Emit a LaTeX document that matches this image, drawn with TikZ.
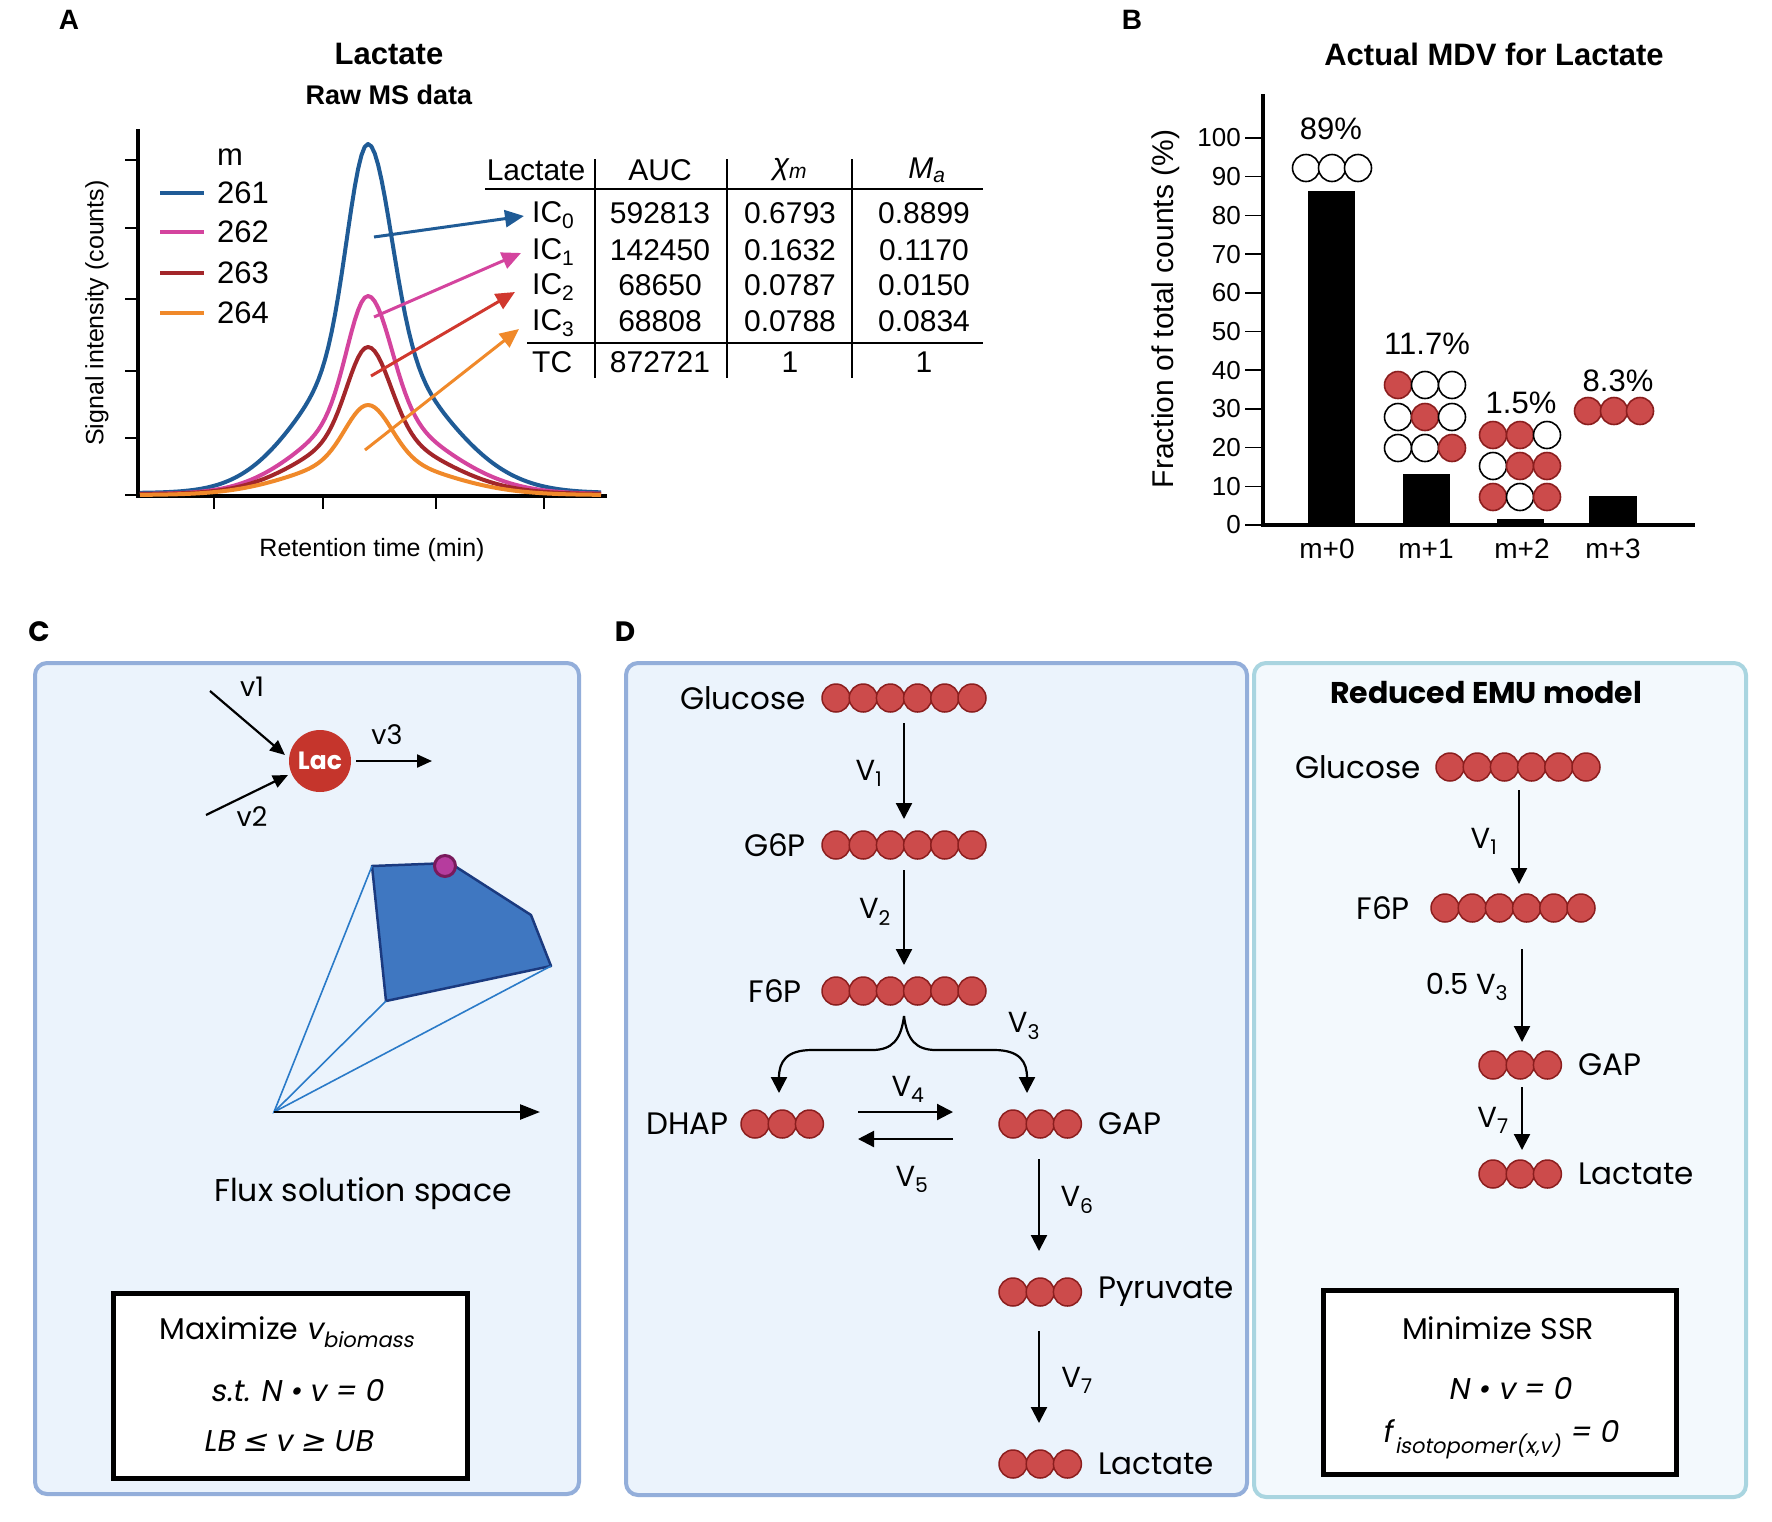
\documentclass[tikz,border=0pt]{standalone}
\usepackage{fontspec}
\setmainfont{Liberation Sans}
\newfontfamily\pop{Poppins}
\newfontfamily\popi{Poppins}[FakeSlant=0.18]
\newfontfamily\djvi{DejaVu Sans}[FakeSlant=0.18]
\usetikzlibrary{arrows.meta}
\newcommand{\fs}[1]{\fontsize{#1}{#1}\selectfont}
\definecolor{cblue}{HTML}{1F5B96}
\definecolor{cmag}{HTML}{D4449E}
\definecolor{cdred}{HTML}{A3262A}
\definecolor{corange}{HTML}{F0892A}
\definecolor{carrred}{HTML}{D0382E}
\definecolor{atomfill}{HTML}{CC4B4B}
\definecolor{atomedge}{HTML}{8B1E1E}
\definecolor{panelC}{HTML}{EBF3FC}
\definecolor{panelCedge}{HTML}{93AEDA}
\definecolor{panelE}{HTML}{F3F9FD}
\definecolor{panelEedge}{HTML}{A9D5E0}
\definecolor{polyfill}{HTML}{3F77C1}
\definecolor{polyedge}{HTML}{1B3A7F}
\definecolor{thinblue}{HTML}{2A7AC8}
\definecolor{lacred}{HTML}{C5352C}
\definecolor{dotfill}{HTML}{B63C9E}
\definecolor{dotedge}{HTML}{781A5C}
\newcommand{\atoms}[4]{\foreach \i in {1,...,#2}{\node[ratom] (#1\i) at ({#3+27.2*(\i-1)},#4) {};}}
\begin{document}
\begin{tikzpicture}[x=1pt,y=-1pt,
  declare function={pk(\d,\s)=0.6*exp(-min(9,0.693*(\d/\s)^2))+0.4*exp(-min(9,0.693*(\d/(3.1*\s))^2));},
  every node/.style={inner sep=0pt},
  tb/.style={font=\fs{30}},
  ax/.style={font=\fs{26}},
  wat/.style={circle,draw=black,line width=1.6,fill=white,minimum size=27,inner sep=0},
  rat/.style={circle,draw=atomedge,line width=1.6,fill=atomfill,minimum size=27,inner sep=0},
  ratom/.style={circle,draw=atomedge,line width=1.5,fill=atomfill,minimum size=28,inner sep=0},
  dt/.style={font=\pop\fs{31}},
  vl/.style={font=\pop\fs{29}},
  rx/.style={line width=2.2,-{Triangle[width=16,length=16]}},
  curve/.style={line width=4,line join=round},
  carrow/.style={line width=3,-{Triangle[width=17,length=19]}}
]
\fill[white] (0,0) rectangle (1772,1521);
\useasboundingbox (0,0) rectangle (1772,1521);

% ================= Panel A =================
\node[font=\bfseries\fs{28}] (labA) at (69,20) {A};
\node[font=\bfseries\fs{31}] (tA) at (389,54) {Lactate};
\node[font=\bfseries\fs{27}] (tA2) at (389,95) {Raw MS data};
\draw[line width=4] (138,129) -- (138,496) -- (607,496);
\foreach \y in {160,228,299,371,438,495} \draw[line width=1.5] (125,\y) -- (138,\y);
\foreach \x in {214,323,436,544} \draw[line width=2] (\x,496) -- (\x,509);
\node[font=\fs{25}] (xlabA) at (372,550) {Retention time (min)};
\node[font=\fs{25},rotate=90] (ylabA) at (97,313) {Signal intensity (counts)};

\draw[cblue,curve] plot[domain=140:368,samples=70] (\x,{493-349*pk(\x-368,24)}) -- plot[domain=368:601,samples=70] (\x,{493-349*pk(\x-368,27)});
\draw[cmag,curve] plot[domain=140:368,samples=70] (\x,{494-198*pk(\x-368,24)}) -- plot[domain=368:601,samples=70] (\x,{494-198*pk(\x-368,27)});
\draw[cdred,curve] plot[domain=140:368,samples=70] (\x,{494-147*pk(\x-368,24)}) -- plot[domain=368:601,samples=70] (\x,{494-147*pk(\x-368,26)});
\draw[corange,curve] plot[domain=140:368,samples=70] (\x,{495-90*pk(\x-368,26)}) -- plot[domain=368:601,samples=70] (\x,{495-90*pk(\x-368,27)});

\node[font=\fs{31},anchor=west] (lm) at (217,157) {m};
\node[font=\fs{31},anchor=west] (l1) at (217,193) {261};
\node[font=\fs{31},anchor=west] (l2) at (217,232) {262};
\node[font=\fs{31},anchor=west] (l3) at (217,273) {263};
\node[font=\fs{31},anchor=west] (l4) at (217,313) {264};
\draw[cblue,line width=4] (160,193) -- (204,193);
\draw[cmag,line width=4] (160,232) -- (204,232);
\draw[cdred,line width=4] (160,273) -- (204,273);
\draw[corange,line width=4] (160,313) -- (204,313);

% table
\node[tb] (hLac) at (536,170) {Lactate};
\node[tb] (hAUC) at (660,170) {AUC};
\node[tb] (hX) at (790,170) {\itshape χ\textsubscript{m}};
\node[tb] (hM) at (927,170) {\itshape M\textsubscript{a}};
\draw[line width=2.5] (485,189) -- (983,189);
\draw[line width=2.5] (527,343) -- (983,343);
\foreach \x in {595,727,852} \draw[line width=2.5] (\x,159) -- (\x,378);
\node[tb,anchor=west] (ic0) at (532,215) {IC\textsubscript{0}};
\node[tb,anchor=west] (ic1) at (532,252) {IC\textsubscript{1}};
\node[tb,anchor=west] (ic2) at (532,287) {IC\textsubscript{2}};
\node[tb,anchor=west] (ic3) at (532,323) {IC\textsubscript{3}};
\node[tb,anchor=west] (tc) at (532,362) {TC};
\node[tb] (a0) at (660,213) {592813};
\node[tb] (a1) at (660,250) {142450};
\node[tb] (a2) at (660,285) {68650};
\node[tb] (a3) at (660,321) {68808};
\node[tb] (a4) at (660,362) {872721};
\node[tb] (x0) at (790,213) {0.6793};
\node[tb] (x1) at (790,250) {0.1632};
\node[tb] (x2) at (790,285) {0.0787};
\node[tb] (x3) at (790,321) {0.0788};
\node[tb] (x4) at (790,362) {1};
\node[tb] (m0) at (924,213) {0.8899};
\node[tb] (m1) at (924,250) {0.1170};
\node[tb] (m2) at (924,285) {0.0150};
\node[tb] (m3) at (924,321) {0.0834};
\node[tb] (m4) at (924,362) {1};

\coordinate (b0s) at (374,237); \coordinate (b0e) at (524,216);
\coordinate (b1s) at (374,317); \coordinate (b1e) at (521,253);
\coordinate (b2s) at (371,376); \coordinate (b2e) at (515,292);
\coordinate (b3s) at (365,450); \coordinate (b3e) at (519,329);
\draw[cblue,carrow] (b0s) -- (b0e);
\draw[cmag,carrow] (b1s) -- (b1e);
\draw[carrred,carrow] (b2s) -- (b2e);
\draw[corange,carrow] (b3s) -- (b3e);

% ================= Panel B =================
\node[font=\bfseries\fs{28}] (labB) at (1132,20) {B};
\node[font=\bfseries\fs{31}] (tB) at (1494,54) {Actual MDV for Lactate};
\draw[line width=4] (1263,94) -- (1263,525) -- (1695,525);
\foreach \v in {0,10,...,100}{
  \draw[line width=1.5] (1245,{525-3.87*\v}) -- (1263,{525-3.87*\v});
  \node[ax,anchor=east] (tk\v) at (1241,{525-3.87*\v}) {\v};
}
\node[font=\fs{30},rotate=90] (ylabB) at (1166,309) {Fraction of total counts (\%)};
\fill (1308,191) rectangle (1355,524);
\fill (1403,474) rectangle (1450,524);
\fill (1497,519) rectangle (1544,524);
\fill (1589,496) rectangle (1637,524);
\node[font=\fs{28}] (xm0) at (1327,549) {m+0};
\node[font=\fs{28}] (xm1) at (1426,549) {m+1};
\node[font=\fs{28}] (xm2) at (1522,549) {m+2};
\node[font=\fs{28}] (xm3) at (1613,549) {m+3};
\node[font=\fs{31}] (p0) at (1331,129) {89\%};
\node[font=\fs{31}] (p1) at (1427,344) {11.7\%};
\node[font=\fs{31}] (p2) at (1521,403) {1.5\%};
\node[font=\fs{31}] (p3) at (1618,381) {8.3\%};
% isotopomers
\node[wat] (i0a) at (1306,168) {}; \node[wat] (i0b) at (1332,168) {}; \node[wat] (i0c) at (1358,168) {};
\node[rat] (i1a) at (1398,385) {}; \node[wat] (i1b) at (1425,385) {}; \node[wat] (i1c) at (1452,385) {};
\node[wat] (i1d) at (1398,417) {}; \node[rat] (i1e) at (1425,417) {}; \node[wat] (i1f) at (1452,417) {};
\node[wat] (i1g) at (1398,448) {}; \node[wat] (i1h) at (1425,448) {}; \node[rat] (i1i) at (1452,448) {};
\node[rat] (i2a) at (1493,435) {}; \node[rat] (i2b) at (1520,435) {}; \node[wat] (i2c) at (1547,435) {};
\node[wat] (i2d) at (1493,466) {}; \node[rat] (i2e) at (1520,466) {}; \node[rat] (i2f) at (1547,466) {};
\node[rat] (i2g) at (1493,497) {}; \node[wat] (i2h) at (1520,497) {}; \node[rat] (i2i) at (1547,497) {};
\node[rat] (i3a) at (1588,411) {}; \node[rat] (i3b) at (1614,411) {}; \node[rat] (i3c) at (1640,411) {};

% ================= Panel C =================
\node[font=\pop\bfseries\fs{28}] (labC) at (39,632) {C};
\draw[panelCedge,fill=panelC,line width=4,rounded corners=12] (35,663) rectangle (579,1494);
\node[circle,fill=lacred,minimum size=62,font=\pop\bfseries\fs{25},text=white] (lac) at (320,761) {Lac};
\coordinate (v1s) at (210,691); \coordinate (v1e) at (285,755);
\coordinate (v2s) at (206,815); \coordinate (v2e) at (288,775);
\coordinate (v3s) at (356,761); \coordinate (v3e) at (432,761);
\draw[line width=2.2,-{Triangle[width=13,length=15]}] (v1s) -- (v1e);
\draw[line width=2.2,-{Triangle[width=13,length=15]}] (v2s) -- (v2e);
\draw[line width=2.2,-{Triangle[width=13,length=15]}] (v3s) -- (v3e);
\node[font=\pop\fs{27}] (v1l) at (252,687) {v1};
\node[font=\pop\fs{27}] (v2l) at (252,817) {v2};
\node[font=\pop\fs{27}] (v3l) at (387,735) {v3};
\coordinate (org) at (274,1112);
\coordinate (pA) at (372,866); \coordinate (pB) at (450,863); \coordinate (pC) at (531,915);
\coordinate (pD) at (551,966); \coordinate (pE) at (386,1001);
\fill[polyfill,draw=polyedge,line width=2.5,line join=round] (pA) -- (pB) -- (pC) -- (pD) -- (pE) -- cycle;
\draw[thinblue,line width=1.6] (pA) -- (org) -- (pD);
\draw[thinblue,line width=1.6] (org) -- (pE);
\coordinate (axe) at (540,1112);
\draw[line width=2.5,-{Triangle[width=15,length=20]}] (org) -- (axe);
\node[circle,fill=dotfill,draw=dotedge,line width=3,minimum size=21] (opt) at (445,866) {};
\node[font=\pop\fs{31.5}] (flux) at (363,1194) {Flux solution space};
\node[draw,line width=5,fill=white,minimum width=354,minimum height=185] (boxC) at (290,1386) {};
\node[font=\pop\fs{30}] (mx1) at (287,1332) {Maximize {\popi v}\textsubscript{\popi biomass}};
\node[font=\popi\fs{30}] (mx2) at (297,1391) {s.t. N • v = 0};
\node[font=\popi\fs{30}] (mx3) at (288,1441) {LB {\djvi ≤} v {\djvi ≥} UB};

% ================= Panel D =================
\node[font=\pop\bfseries\fs{28}] (labD) at (625,632) {D};
\draw[panelCedge,fill=panelC,line width=4,rounded corners=12] (626,663) rectangle (1247,1495);
\draw[panelEedge,fill=panelE,line width=4,rounded corners=12] (1254,663) rectangle (1746,1497);

\atoms{glc}{6}{836}{698}
\atoms{gsp}{6}{836}{845}
\atoms{fsp}{6}{836}{991}
\atoms{dhap}{3}{755}{1124}
\atoms{gap}{3}{1013}{1124}
\atoms{pyr}{3}{1013}{1292}
\atoms{lct}{3}{1013}{1464}
\node[dt,anchor=east] (nglc) at (806,698) {Glucose};
\node[dt,anchor=east] (ngsp) at (806,845) {G6P};
\node[dt,anchor=east] (nfsp) at (802,991) {F6P};
\node[dt,anchor=east] (ndhap) at (729,1124) {DHAP};
\node[dt,anchor=west] (ngap) at (1098,1124) {GAP};
\node[dt,anchor=west] (npyr) at (1098,1292) {Pyruvate};
\node[dt,anchor=west] (nlct) at (1098,1464) {Lactate};

\coordinate (r1s) at (904,723); \coordinate (r1e) at (904,819);
\coordinate (r2s) at (904,870); \coordinate (r2e) at (904,965);
\coordinate (r3s) at (904,1016); \coordinate (r3l) at (779,1093); \coordinate (r3r) at (1027,1093);
\coordinate (r4s) at (858,1112); \coordinate (r4e) at (953,1112);
\coordinate (r5s) at (953,1139); \coordinate (r5e) at (858,1139);
\coordinate (r6s) at (1039,1159); \coordinate (r6e) at (1039,1251);
\coordinate (r7s) at (1039,1331); \coordinate (r7e) at (1039,1423);
\draw[rx] (r1s) -- (r1e);
\draw[rx] (r2s) -- (r2e);
\draw[rx] (r3s) .. controls (901,1040) and (892,1050) .. (872,1050) -- (812,1050) .. controls (786,1050) and (779,1062) .. (r3l);
\draw[rx] (r3s) .. controls (907,1040) and (916,1050) .. (936,1050) -- (994,1050) .. controls (1020,1050) and (1027,1062) .. (r3r);
\draw[rx] (r4s) -- (r4e);
\draw[rx] (r5s) -- (r5e);
\draw[rx] (r6s) -- (r6e);
\draw[rx] (r7s) -- (r7e);
\node[vl] (lv1) at (869,773) {V\textsubscript{1}};
\node[vl] (lv2) at (875,912) {V\textsubscript{2}};
\node[vl] (lv3) at (1024,1026) {V\textsubscript{3}};
\node[vl] (lv4) at (908,1089) {V\textsubscript{4}};
\node[vl] (lv5) at (912,1179) {V\textsubscript{5}};
\node[vl] (lv6) at (1077,1200) {V\textsubscript{6}};
\node[vl] (lv7) at (1077,1380) {V\textsubscript{7}};

% EMU model
\node[font=\pop\bfseries\fs{30}] (tE) at (1486,693) {Reduced EMU model};
\atoms{eglc}{6}{1450}{767}
\atoms{efsp}{6}{1445}{908}
\atoms{egap}{3}{1493}{1065}
\atoms{elct}{3}{1493}{1174}
\node[dt,anchor=east] (neglc) at (1421,767) {Glucose};
\node[dt,anchor=east] (nefsp) at (1410,908) {F6P};
\node[dt,anchor=west] (negap) at (1578,1065) {GAP};
\node[dt,anchor=west] (nelct) at (1578,1174) {Lactate};
\coordinate (e1s) at (1519,790); \coordinate (e1e) at (1519,884);
\coordinate (e2s) at (1522,949); \coordinate (e2e) at (1522,1042);
\coordinate (e3s) at (1522,1087); \coordinate (e3e) at (1522,1150);
\draw[rx] (e1s) -- (e1e);
\draw[rx] (e2s) -- (e2e);
\draw[rx] (e3s) -- (e3e);
\node[vl] (le1) at (1484,841) {V\textsubscript{1}};
\node[vl] (le2) at (1467,987) {0.5 V\textsubscript{3}};
\node[vl] (le3) at (1493,1120) {V\textsubscript{7}};
\node[draw,line width=5,fill=white,minimum width=353,minimum height=184] (boxE) at (1499.5,1382) {};
\node[font=\pop\fs{30}] (mn1) at (1498,1328) {Minimize SSR};
\node[font=\popi\fs{30}] (mn2) at (1510,1388) {N • v = 0};
\node[font=\popi\fs{30}] (mn3) at (1500,1439) {f\kern3pt\textsubscript{isotopomer(x,v)} = 0};
\end{tikzpicture}
\end{document}
